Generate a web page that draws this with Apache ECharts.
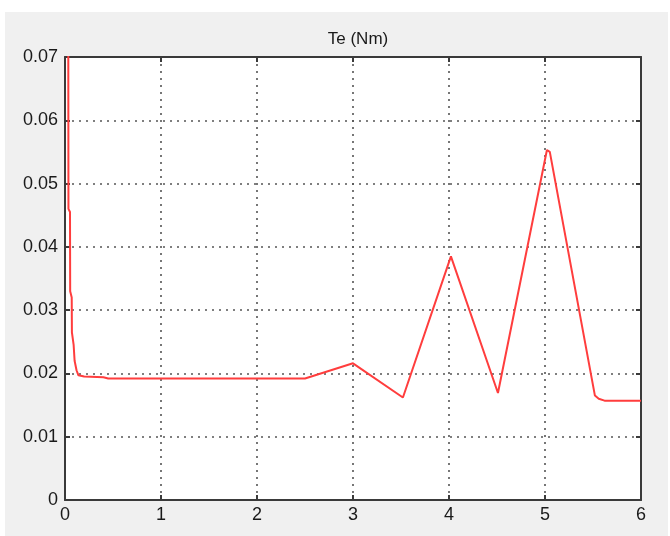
<!DOCTYPE html>
<html>
<head>
<meta charset="utf-8">
<script src="https://cdn.jsdelivr.net/npm/echarts@6/dist/echarts.min.js"></script>
<style>html,body{margin:0;padding:0;background:#fff}#c{width:670px;height:536px}</style>
</head>
<body>
<div id="c"></div>
<script>
const titleText = 'Te (Nm)';
const xTicks = [0, 1, 2, 3, 4, 5, 6];
const yTicks = [0, 0.01, 0.02, 0.03, 0.04, 0.05, 0.06, 0.07];
const timeS = [0.030, 0.034, 0.036, 0.052, 0.054, 0.070, 0.072, 0.090, 0.100, 0.120, 0.140, 0.200, 0.400, 0.450, 2.50, 3.00, 3.52, 4.02, 4.51, 5.02, 5.05, 5.52, 5.56, 5.62, 6.00];
const torque = [0.080, 0.075, 0.046, 0.0455, 0.033, 0.032, 0.0265, 0.0245, 0.022, 0.0205, 0.0197, 0.0195, 0.0194, 0.0192, 0.0192, 0.0216, 0.0162, 0.0385, 0.0169, 0.0553, 0.0550, 0.0165, 0.0160, 0.0157, 0.0157];

const chart = echarts.init(document.getElementById('c'), null, {renderer: 'canvas'});
const font = '"Liberation Sans", Arial, sans-serif';
const gridLine = {show: true, lineStyle: {color: '#555', width: 1.6, type: [2, 5]}};
const baseAxis = {
  axisLine: {show: true, onZero: false, lineStyle: {color: '#3a3a3a', width: 2}},
  axisTick: {show: true, inside: true, length: 5, lineStyle: {color: '#3a3a3a', width: 2}},
};
chart.setOption({
  backgroundColor: '#ffffff',
  animation: false,
  graphic: [{type: 'rect', shape: {x: 5, y: 12, width: 663, height: 524}, style: {fill: '#f0f0f0'}, z: -10, silent: true}],
  title: {text: titleText, left: 353, top: 26, textAlign: 'center',
    textStyle: {fontFamily: font, fontSize: 17, fontWeight: 'normal', color: '#1a1a1a'}},
  grid: {left: 65, top: 57, width: 576, height: 443, show: true, backgroundColor: '#ffffff', borderWidth: 0},
  xAxis: [
    Object.assign({type: 'value', min: xTicks[0], max: xTicks[xTicks.length - 1], interval: 1, position: 'bottom',
      axisLabel: {fontFamily: font, fontSize: 18, color: '#1a1a1a', margin: 6},
      splitLine: gridLine}, baseAxis),
    Object.assign({type: 'value', min: xTicks[0], max: xTicks[xTicks.length - 1], interval: 1, position: 'top',
      axisLabel: {show: false}, splitLine: {show: false}}, baseAxis)
  ],
  yAxis: [
    Object.assign({type: 'value', min: yTicks[0], max: yTicks[yTicks.length - 1], interval: 0.01, position: 'left',
      axisLabel: {fontFamily: font, fontSize: 18, color: '#1a1a1a', margin: 7, formatter: v => v === 0 ? '0' : v.toFixed(2)},
      splitLine: gridLine}, baseAxis),
    Object.assign({type: 'value', min: yTicks[0], max: yTicks[yTicks.length - 1], interval: 0.01, position: 'right',
      axisLabel: {show: false}, splitLine: {show: false}}, baseAxis)
  ],
  series: [{
    type: 'line',
    data: timeS.map((t, i) => [t, torque[i]]),
    showSymbol: false,
    clip: true,
    lineStyle: {color: '#ff3d3d', width: 2},
    itemStyle: {color: '#ff3d3d'},
    z: 5
  }]
});
</script>
</body>
</html>
